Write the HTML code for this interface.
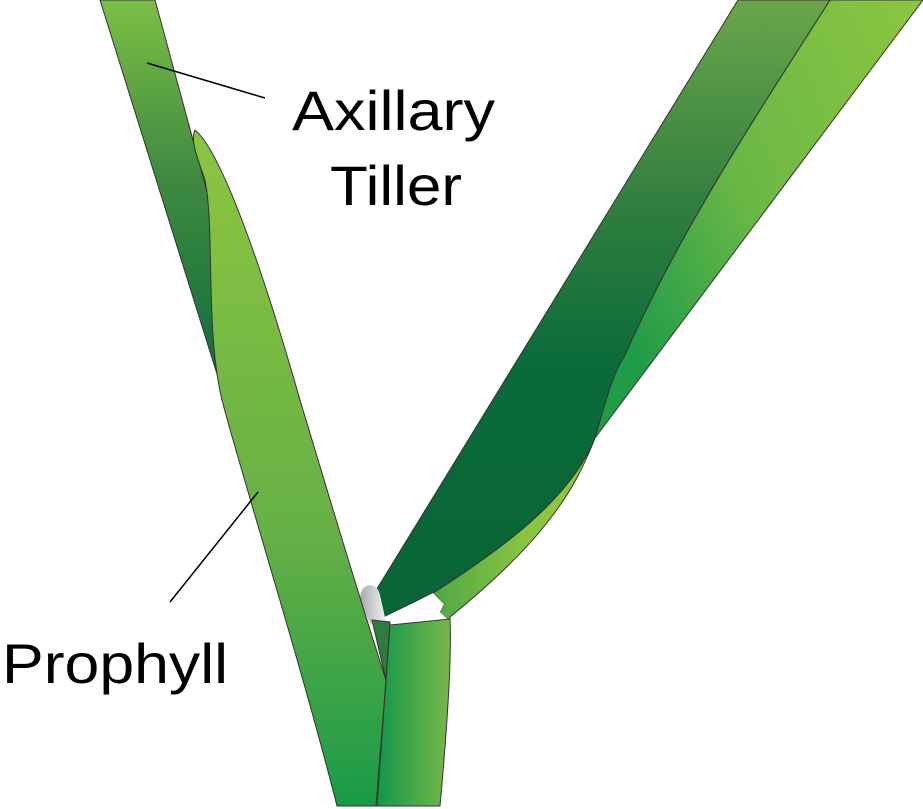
<!DOCTYPE html>
<html><head><meta charset="utf-8"><style>
html,body{margin:0;padding:0;background:#fff;}
svg{display:block;}
text{font-family:"Liberation Sans",sans-serif;fill:#000;}
</style></head><body>
<svg width="923" height="809" viewBox="0 0 923 809">
<defs>
<linearGradient id="gTiller" x1="0" y1="0" x2="0" y2="1"><stop offset="0" stop-color="#7cbf45"/><stop offset="0.45" stop-color="#3f8a42"/><stop offset="1" stop-color="#0d6e3a"/></linearGradient>
<linearGradient id="gPro" x1="0" y1="0" x2="0" y2="1"><stop offset="0" stop-color="#8cc63f"/><stop offset="0.6" stop-color="#66b046"/><stop offset="1" stop-color="#1a9a48"/></linearGradient>
<linearGradient id="gDark" x1="0" y1="0" x2="0" y2="1"><stop offset="0" stop-color="#6aa64a"/><stop offset="0.35" stop-color="#2e7d3e"/><stop offset="0.6" stop-color="#0a6b3a"/><stop offset="1" stop-color="#096436"/></linearGradient>
<linearGradient id="gLight" x1="1" y1="0" x2="0" y2="0.6"><stop offset="0" stop-color="#8cc63f"/><stop offset="0.6" stop-color="#6ab746"/><stop offset="1" stop-color="#1f9c48"/></linearGradient>
<linearGradient id="gLow" x1="0" y1="0" x2="1" y2="0"><stop offset="0" stop-color="#4fa845"/><stop offset="0.6" stop-color="#8cc63f"/><stop offset="1" stop-color="#8cc63f"/></linearGradient>
<linearGradient id="gStem" x1="0" y1="0" x2="1" y2="0"><stop offset="0" stop-color="#12974a"/><stop offset="1" stop-color="#78b84a"/></linearGradient>
<linearGradient id="gSheath" x1="0" y1="0" x2="1" y2="0"><stop offset="0" stop-color="#a8a9ad"/><stop offset="1" stop-color="#f2f2f2"/></linearGradient>
</defs>
<g stroke="#333" stroke-width="1">
<path d="M100,0 L155,0 L212,210 L222,390 Z" fill="url(#gTiller)"/>
<path d="M830,0 L923,0 L595,438 C606,400 612,375 625,355 C680,230 760,110 830,0 Z" fill="url(#gLight)"/>
<path d="M595,438 C575,490 545,540 450,617 L450,625 L440,612 L444,604 L433,593 C500,550 570,500 595,438 Z" fill="url(#gLow)"/>
<path d="M738,0 L830,0 C760,110 680,230 625,355 C612,375 606,400 595,438 C570,500 500,550 433,593 L383,617 L375,592 Z" fill="url(#gDark)"/>
<path d="M380,620 L433,593 L444,604 L440,612 L450,622 L390,626 Z" fill="#ffffff" stroke="none"/>
<path d="M360,600 C360,580 378,582 380,595 L386,622 L370,624 Z" fill="url(#gSheath)" stroke="none"/>
<path d="M195,130 C220,150 260,260 300,400 C330,500 360,600 386,680 L376,806 L337,806 C300,660 240,470 222,400 C205,330 215,230 205,180 C198,160 190,140 195,130 Z" fill="url(#gPro)"/>
<path d="M372,620 L390,622 L386,680 Z" fill="#2e7d3e"/>
<path d="M390,625 L450,619 C452,660 446,740 440,806 L377,806 Z" fill="url(#gStem)"/>
</g>
<line x1="147" y1="63" x2="265" y2="98" stroke="#000" stroke-width="1.5"/>
<line x1="170" y1="602" x2="258" y2="492" stroke="#000" stroke-width="1.5"/>
<text x="292" y="130" font-size="56" textLength="203" lengthAdjust="spacingAndGlyphs">Axillary</text>
<text x="330" y="205" font-size="56" textLength="132" lengthAdjust="spacingAndGlyphs">Tiller</text>
<text x="2" y="683" font-size="56" textLength="226" lengthAdjust="spacingAndGlyphs">Prophyll</text>
</svg>
</body></html>
